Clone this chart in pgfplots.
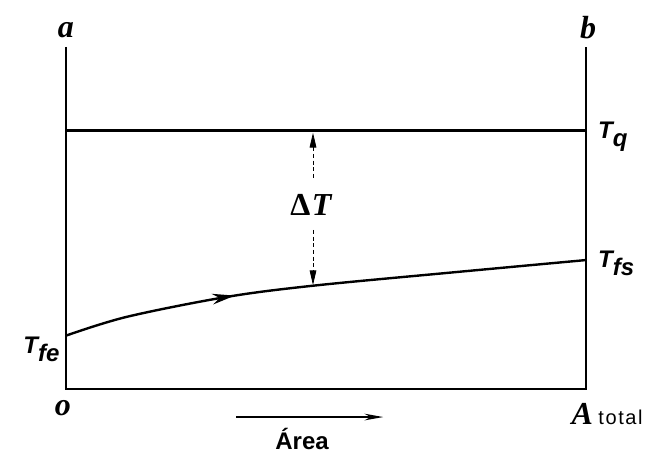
\documentclass[border=0pt]{standalone}
\usepackage{fontspec}
\setmainfont{Liberation Serif}
\setsansfont{Liberation Sans}
\usepackage{pgfplots}
\pgfplotsset{compat=1.18}
\usetikzlibrary{arrows.meta,decorations.markings}
\newcommand{\bi}[1]{{\bfseries\itshape #1}}
\newcommand{\Tlab}[1]{{\sffamily\bfseries\itshape\fontsize{18}{21}\selectfont T\raisebox{-6pt}{#1}}}
\begin{document}
\begin{tikzpicture}
\useasboundingbox (0,0) rectangle (492.75pt,342pt);
\begin{axis}[
  at={(49.5pt,50.25pt)}, anchor=south west,
  scale only axis, width=390pt, height=256.5pt,
  xmin=0, xmax=100, ymin=0, ymax=100,
  axis lines=none, clip=false,
]
% frame: left, bottom, right
\addplot[black, line width=1.7pt, line join=miter] coordinates {(0,100) (0,0) (100,0) (100,100)};
% T_q line
\addplot[black, line width=1.9pt] coordinates {(0,75.6) (100,75.6)};
% fluid temperature curve
\addplot[black, line width=1.8pt, smooth, tension=0.55,
  postaction={decorate},
  decoration={markings, mark=at position 0.33 with {\arrow{Stealth[length=17pt,width=8pt]}}}]
  coordinates {(0,15.6) (11.7,21.1) (30.8,26.9) (47.5,30.2) (73.7,34.0) (100,37.7)};
% Delta T double arrow (dashed)
\addplot[black, line width=0.6pt, densely dashed, {Triangle[length=11pt,width=5pt]}-] coordinates {(47.5,74.9) (47.5,61.5)};
\addplot[black, line width=0.6pt, densely dashed, -{Triangle[length=11pt,width=5pt]}] coordinates {(47.5,46.5) (47.5,30.4)};
% Area arrow
\addplot[black, line width=1.1pt, -{Stealth[length=14pt,width=5pt]}] coordinates {(32.7,-8.2) (61,-8.2)};
% labels
\node at (axis cs:0,105) {\fontsize{24}{28}\selectfont\bi{a}};
\node at (axis cs:100.4,105.6) {\fontsize{24}{28}\selectfont\bi{b}};
\node at (axis cs:-0.6,-5.6) {\fontsize{24}{28}\selectfont\bi{o}};
\node[anchor=west, inner sep=0pt] at (axis cs:97.2,-7.3) {\fontsize{24}{28}\selectfont\bi{A}\,{\sffamily\fontsize{15}{18}\selectfont\addfontfeatures{LetterSpace=8}total}};
\node at (axis cs:47.1,53.8) {\fontsize{24}{28}\selectfont\bfseries Δ\kern1pt\itshape T};
\node at (axis cs:45.4,-14.6) {\sffamily\bfseries\fontsize{18}{22}\selectfont Área};
\node[anchor=west, inner sep=0pt] at (axis cs:102.3,73.8) {\Tlab{q}};
\node[anchor=west, inner sep=0pt] at (axis cs:102.3,36.6) {\Tlab{fs}};
\node[anchor=east, inner sep=0pt] at (axis cs:-1.2,11.5) {\Tlab{fe}};
\end{axis}
\end{tikzpicture}
\end{document}
